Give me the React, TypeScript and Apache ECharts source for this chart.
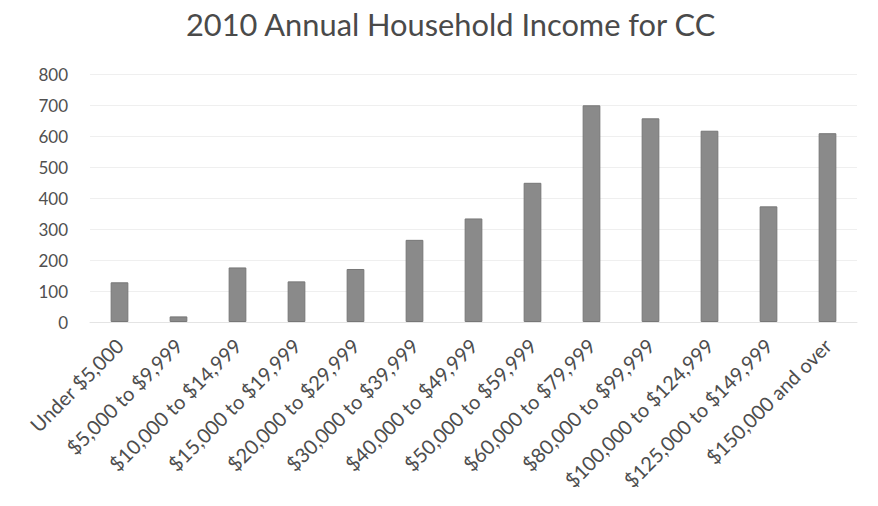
import React, { useEffect, useRef } from "react";
import * as echarts from "echarts";

const categories = [
  "Under $5,000",
  "$5,000 to $9,999",
  "$10,000 to $14,999",
  "$15,000 to $19,999",
  "$20,000 to $29,999",
  "$30,000 to $39,999",
  "$40,000 to $49,999",
  "$50,000 to $59,999",
  "$60,000 to $79,999",
  "$80,000 to $99,999",
  "$100,000 to $124,999",
  "$125,000 to $149,999",
  "$150,000 and over",
];
const households = [128, 18, 176, 131, 171, 265, 334, 449, 699, 657, 617, 373, 609];
const titleText = "2010 Annual Household Income for CC";

export default function App() {
  const ref = useRef<HTMLDivElement>(null);
  useEffect(() => {
    if (!ref.current) return;
    const chart = echarts.init(ref.current, null, { renderer: "svg" });
    chart.setOption({
      animation: false,
      backgroundColor: "#ffffff",
      title: {
        text: titleText,
        left: 181,
        top: 4,
        textStyle: {
          fontFamily: "Lato",
          fontSize: 30.8,
          fontWeight: "normal",
          color: "#4a4a4a",
        },
      },
      grid: { left: 90, right: 21, top: 74, bottom: 184, containLabel: false },
      xAxis: {
        type: "category",
        data: categories,
        axisLine: { show: true, lineStyle: { color: "#e4e4e4" } },
        axisTick: { show: false },
        axisLabel: {
          rotate: 45,
          interval: 0,
          margin: 20,
          fontFamily: "Lato",
          fontSize: 20,
          color: "#4d4d4d",
        },
      },
      yAxis: {
        type: "value",
        min: 0,
        max: 800,
        interval: 100,
        axisLine: { show: false },
        axisTick: { show: false },
        splitLine: { lineStyle: { color: "#efefef" } },
        axisLabel: {
          margin: 22,
          fontFamily: "Lato",
          fontSize: 17,
          color: "#505050",
        },
      },
      series: [
        {
          type: "bar",
          data: households,
          barWidth: "30%",
          itemStyle: { color: "#8a8a8a", borderColor: "#777777", borderWidth: 1 },
        },
      ],
    });
    return () => chart.dispose();
  }, []);
  return (
    <div
      ref={ref}
      style={{ position: "absolute", left: 0, top: 0, width: 878, height: 506 }}
    />
  );
}
